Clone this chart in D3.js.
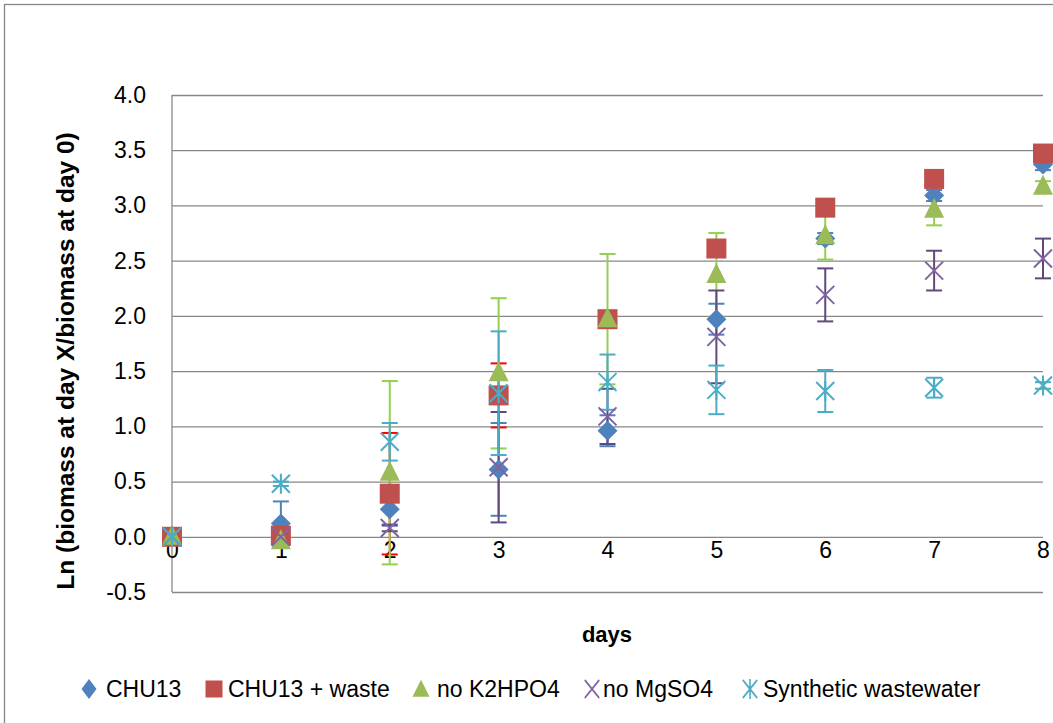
<!DOCTYPE html>
<html lang="en">
<head>
    <meta charset="UTF-8">
    <title>Ln biomass growth</title>
    <script src="https://d3js.org/d3.v7.min.js"></script>
    <style>
        body {
            margin: 0;
            background: #fff;
            font-family: "Liberation Sans", Arial, sans-serif;
        }
        svg { display: block; }
    </style>
</head>
<body>
<svg width="1053" height="723"></svg>
<script>
    // data
    const days = [0, 1, 2, 3, 4, 5, 6, 7, 8];
    const seriesNames = ["CHU13", "CHU13 + waste", "no K2HPO4", "no MgSO4", "Synthetic wastewater"];

    const chu13      = [0, 0.12, 0.25, 0.61, 0.96, 1.97, 2.70, 3.09, 3.37];
    const chu13Err   = [0, 0.20, 0.15, 0.42, 0.14, 0.14, 0.05, 0.05, 0.05];
    const waste      = [0, 0.01, 0.39, 1.28, 1.97, 2.61, 2.98, 3.24, 3.47];
    const wasteErr   = [0, 0.03, 0.55, 0.29, 0.05, 0.05, 0.05, 0.05, 0.05];
    const noK2hpo4   = [0, -0.04, 0.58, 1.48, 1.97, 2.37, 2.72, 2.96, 3.17];
    const noK2Err    = [0, 0.03, 0.83, 0.68, 0.59, 0.38, 0.21, 0.14, 0.05];
    const noMgso4    = [0, 0.00, 0.08, 0.63, 1.09, 1.81, 2.19, 2.41, 2.52];
    const noMgErr    = [0, 0.02, 0.03, 0.50, 0.25, 0.42, 0.24, 0.18, 0.18];
    const synthetic  = [0, 0.48, 0.86, 1.30, 1.40, 1.33, 1.32, 1.35, 1.37];
    const synthErr   = [0, 0.02, 0.17, 0.56, 0.25, 0.22, 0.19, 0.09, 0.03];

    const yTicks = [-0.5, 0, 0.5, 1, 1.5, 2, 2.5, 3, 3.5, 4];

    const series = [
        {name: seriesNames[0], vals: chu13, err: chu13Err, shape: "diamond", color: "#4F81BD", errColor: "#4F81BD"},
        {name: seriesNames[1], vals: waste, err: wasteErr, shape: "square", color: "#C0504D", errColor: "#FF0000"},
        {name: seriesNames[2], vals: noK2hpo4, err: noK2Err, shape: "triangle", color: "#9BBB59", errColor: "#92D050"},
        {name: seriesNames[3], vals: noMgso4, err: noMgErr, shape: "x", color: "#8064A2", errColor: "#604A7B"},
        {name: seriesNames[4], vals: synthetic, err: synthErr, shape: "star", color: "#4BACC6", errColor: "#4BACC6"}
    ];

    const svg = d3.select("svg");
    const plotL = 172, plotR = 1043, plotT = 95, plotB = 592;
    const grey = "#878787";
    const fmt = v => d3.format(".1f")(v).replace("\u2212", "-");

    const x = d3.scaleLinear().domain([0, 8]).range([plotL, plotR]);
    const y = d3.scaleLinear().domain([-0.5, 4]).range([plotB, plotT]);

    // chart area border
    svg.append("rect")
        .attr("x", 4.5).attr("y", 4.5)
        .attr("width", 1060).attr("height", 730)
        .attr("fill", "none").attr("stroke", grey).attr("stroke-width", 1.3);

    // gridlines + y labels
    const yAxis = svg.append("g")
        .attr("transform", `translate(${plotL},0)`)
        .call(d3.axisLeft(y).tickValues(yTicks).tickFormat(fmt)
            .tickSize(-(plotR - plotL)).tickPadding(26));
    yAxis.select(".domain").remove();
    yAxis.selectAll("line").attr("stroke", grey).attr("stroke-width", 1.3);
    yAxis.selectAll("text").attr("font-size", 23).attr("fill", "#000")
        .attr("font-family", "Liberation Sans, Arial, sans-serif");

    svg.append("line")
        .attr("x1", plotL).attr("x2", plotL).attr("y1", plotT).attr("y2", plotB)
        .attr("stroke", grey).attr("stroke-width", 1.3);

    // x labels sit just under the zero line
    const xAxis = svg.append("g")
        .attr("transform", `translate(0,${y(0)})`)
        .call(d3.axisBottom(x).tickValues(days).tickFormat(d3.format("d"))
            .tickSize(0).tickPadding(5));
    xAxis.select(".domain").remove();
    xAxis.selectAll("text").attr("font-size", 23).attr("fill", "#000")
        .attr("font-family", "Liberation Sans, Arial, sans-serif");

    // titles
    svg.append("text")
        .attr("x", 607).attr("y", 642)
        .attr("text-anchor", "middle")
        .attr("font-size", 22).attr("font-weight", "bold")
        .text("days");

    svg.append("text")
        .attr("transform", "translate(74,361) rotate(-90)")
        .attr("text-anchor", "middle")
        .attr("font-size", 24.5).attr("font-weight", "bold")
        .text("Ln (biomass at day X/biomass at day 0)");

    function drawMarker(g, shape, color) {
        if (shape === "diamond") {
            g.append("path").attr("d", "M0,-10L10,0L0,10L-10,0Z").attr("fill", color);
        } else if (shape === "square") {
            g.append("rect").attr("x", -10).attr("y", -10).attr("width", 20).attr("height", 20)
                .attr("fill", color);
        } else if (shape === "triangle") {
            g.append("path").attr("d", "M0,-12L10,8L-10,8Z").attr("fill", color);
        } else {
            const p = "M-9,-9L9,9M-9,9L9,-9" + (shape === "star" ? "M0,-10L0,10" : "");
            g.append("path").attr("d", p).attr("stroke", color).attr("stroke-width", 2)
                .attr("fill", "none");
        }
    }

    // error bars under all markers
    const errG = svg.append("g");
    series.forEach(s => {
        days.forEach((d, i) => {
            const e = s.err[i];
            if (!e) return;
            const cx = x(d), y1 = y(s.vals[i] + e), y2 = y(s.vals[i] - e);
            const g = errG.append("g").attr("stroke", s.errColor).attr("stroke-width", 2);
            g.append("line").attr("x1", cx).attr("x2", cx).attr("y1", y1).attr("y2", y2);
            g.append("line").attr("x1", cx - 8).attr("x2", cx + 8).attr("y1", y1).attr("y2", y1);
            g.append("line").attr("x1", cx - 8).attr("x2", cx + 8).attr("y1", y2).attr("y2", y2);
        });
    });

    series.forEach(s => {
        const g = svg.append("g");
        days.forEach((d, i) => {
            drawMarker(g.append("g").attr("transform", `translate(${x(d)},${y(s.vals[i])})`),
                s.shape, s.color);
        });
    });

    // legend
    const legendX = [89, 214, 421, 592, 750];
    const legendGap = [17, 14, 16, 11, 13];
    const legend = svg.append("g").attr("transform", "translate(0,689)");
    series.forEach((s, i) => {
        const g = legend.append("g").attr("transform", `translate(${legendX[i]},0)`);
        const m = g.append("g");
        if (s.shape === "diamond") m.attr("transform", "scale(0.75,1)");
        else if (s.shape === "triangle") m.attr("transform", "translate(0,1) scale(0.85)");
        else if (s.shape === "square") m.attr("transform", "scale(0.85)");
        else m.attr("transform", "scale(0.8,1)");
        drawMarker(m, s.shape, s.color);
        g.append("text")
            .attr("x", legendGap[i])
            .attr("y", 8)
            .attr("font-size", 23)
            .text(s.name);
    });
</script>
</body>
</html>
